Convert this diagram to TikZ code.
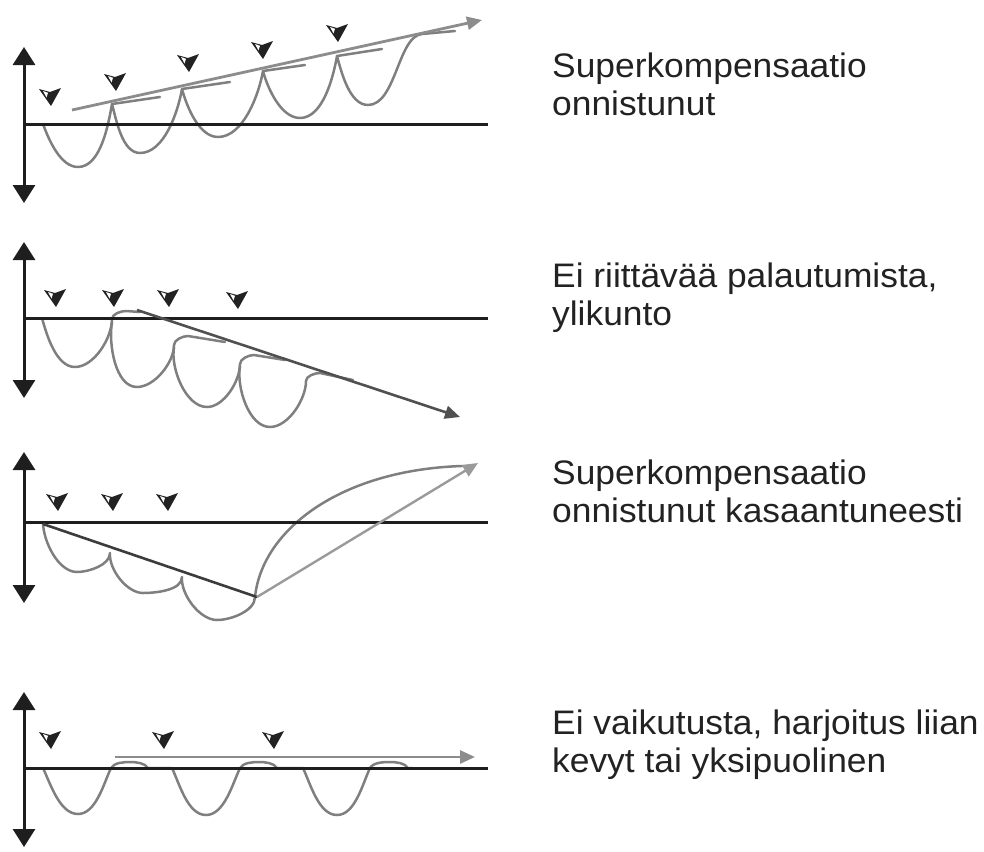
\documentclass[tikz,border=0pt]{standalone}
\usepackage{fontspec}
\setmainfont[FakeStretch=1.04]{Liberation Sans}
\usetikzlibrary{arrows.meta}
\definecolor{axisc}{HTML}{1E1E1E}
\definecolor{curvec}{HTML}{7F7F7F}
\definecolor{trendc}{HTML}{8C8C8C}
\definecolor{trenddark}{HTML}{505050}
\definecolor{darkln}{HTML}{3C3C3C}
\definecolor{lightln}{HTML}{9A9A9A}
\definecolor{mkc}{HTML}{222222}
\definecolor{textc}{HTML}{222222}
\begin{document}
\begin{tikzpicture}[x=1pt,y=-1pt,
  axisln/.style={line width=3pt, draw=axisc, {Triangle[width=22pt,length=18pt]}-{Triangle[width=22pt,length=18pt]}},
  baseln/.style={line width=3pt, draw=axisc},
  curve/.style={line width=2.5pt, draw=curvec, line cap=round, line join=round, looseness=0.8},
  trend/.style={line width=2.8pt, draw=trendc, -{Triangle[width=13pt,length=15pt]}},
  trendd/.style={line width=2.6pt, draw=trenddark, -{Triangle[width=13pt,length=15pt]}},
  lbl/.style={anchor=base west, inner sep=0pt, align=left, font=\fontsize{34}{38}\selectfont, text=textc},
  mk/.pic={
    \fill[mkc] (-11,-8) -- (0,-5) -- (11,-9) -- (1,9) -- cycle;
    \fill[white] (-7,-6) -- (-2,-4.2) -- (-3.5,0.5) -- cycle;
  }
]
\useasboundingbox (0,0) rectangle (984,851);

% ---------- Panel 1 ----------
\draw[curve] (43,124) to[out=-70,in=180] (78,167) to[out=0,in=-100] (112,104)
  to[out=-75,in=180] (140,153) to[out=0,in=-100] (182,89)
  to[out=-75,in=180] (218,137) to[out=0,in=-100] (263,71)
  to[out=-75,in=180] (300,118) to[out=0,in=-100] (337,56)
  to[out=-75,in=180] (368,105) .. controls (396,105) and (398,36) .. (422,34);
\draw[curve] (112,104) -- (160,97);
\draw[curve] (182,89) -- (230,82);
\draw[curve] (263,71) -- (305,65);
\draw[curve] (337,56) -- (382,49);
\draw[curve] (422,34) -- (455,31);
\coordinate (a1t) at (24,47);
\coordinate (a1b) at (24,203);
\coordinate (b1s) at (24,124);
\coordinate (b1e) at (488,124);
\draw[axisln] (a1t) -- (a1b);
\draw[baseln] (b1s) -- (b1e);
\coordinate (t1s) at (72,110);
\coordinate (t1e) at (482,20);
\draw[trend] (t1s) -- (t1e);
\pic at (50,97) {mk};
\pic at (115,82) {mk};
\pic at (188,63) {mk};
\pic at (262,50) {mk};
\pic at (337,33) {mk};

% ---------- Panel 2 ----------
\draw[curve] (42,318) to[out=-75,in=180] (75,367) to[out=0,in=-90] (112,319) to[out=90,in=180] (126,311) -- (140,312);
\draw[curve] (112,322) to[out=-100,in=180] (137,387) to[out=0,in=-90] (174,345) to[out=90,in=180] (188,336) -- (225,342);
\draw[curve] (174,347) to[out=-100,in=180] (207,407) to[out=0,in=-90] (240,364) to[out=90,in=180] (254,355) -- (285,360);
\draw[curve] (240,366) to[out=-100,in=180] (270,427) to[out=0,in=-90] (306,381) to[out=90,in=180] (320,373) -- (353,380);
\coordinate (a2t) at (24,242);
\coordinate (a2b) at (24,398);
\coordinate (b2s) at (24,318);
\coordinate (b2e) at (488,318);
\draw[axisln] (a2t) -- (a2b);
\draw[baseln] (b2s) -- (b2e);
\coordinate (t2s) at (137,310);
\coordinate (t2e) at (460,417);
\draw[trendd] (t2s) -- (t2e);
\pic at (55,298) {mk};
\pic at (113,298) {mk};
\pic at (168,298) {mk};
\pic at (237,300) {mk};

% ---------- Panel 3 ----------
\draw[curve] (43,522) to[out=-90,in=180] (77,572) to[out=0,in=-90] (110,553)
  to[out=-95,in=180] (143,593) to[out=0,in=-90] (182,577)
  to[out=-95,in=180] (217,620) to[out=0,in=-90] (255,597)
  .. controls (262,530) and (340,470) .. (462,466);
\coordinate (a3t) at (24,452);
\coordinate (a3b) at (24,603);
\coordinate (b3s) at (24,522);
\coordinate (b3e) at (488,522);
\draw[axisln] (a3t) -- (a3b);
\draw[baseln] (b3s) -- (b3e);
\coordinate (d3s) at (43,524);
\coordinate (d3e) at (257,597);
\coordinate (l3e) at (478,463);
\draw[line width=2.6pt, draw=darkln] (d3s) -- (d3e);
\draw[line width=2.4pt, draw=lightln, -{Triangle[width=13pt,length=15pt]}] (d3e) -- (l3e);
\pic at (57,502) {mk};
\pic at (112,502) {mk};
\pic at (167,502) {mk};

% ---------- Panel 4 ----------
\draw[curve] (43,768) to[out=-65,in=180] (78,814) to[out=0,in=-115] (111,768) to[out=60,in=180] (130,762) to[out=0,in=120] (148,768) -- (172,768)
  to[out=-65,in=180] (206,815) to[out=0,in=-115] (240,768) to[out=60,in=180] (259,762) to[out=0,in=120] (277,768) -- (303,768)
  to[out=-65,in=180] (337,815) to[out=0,in=-115] (370,768) to[out=60,in=180] (390,762) to[out=0,in=120] (408,768) -- (413,768);
\coordinate (a4t) at (24,692);
\coordinate (a4b) at (24,847);
\coordinate (b4s) at (24,768);
\coordinate (b4e) at (488,768);
\draw[axisln] (a4t) -- (a4b);
\draw[baseln] (b4s) -- (b4e);
\coordinate (t4s) at (115,757);
\coordinate (t4e) at (475,757);
\draw[trend] (t4s) -- (t4e);
\pic at (50,740) {mk};
\pic at (163,740) {mk};
\pic at (273,740) {mk};

% ---------- Labels ----------
\node[lbl] (t1) at (552,115) {Superkompensaatio\\onnistunut};
\node[lbl] (t2) at (552,325) {Ei riittävää palautumista,\\ylikunto};
\node[lbl] (t3) at (552,522) {Superkompensaatio\\onnistunut kasaantuneesti};
\node[lbl] (t4) at (552,772) {Ei vaikutusta, harjoitus liian\\kevyt tai yksipuolinen};
\end{tikzpicture}
\end{document}
